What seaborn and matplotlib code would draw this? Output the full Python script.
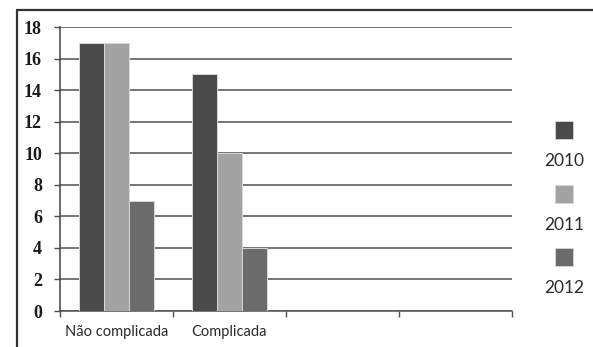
import matplotlib
matplotlib.use("Agg")
import matplotlib.pyplot as plt
import seaborn as sns
import pandas as pd
from matplotlib.lines import Line2D
from matplotlib.patches import Rectangle

# Data
categorias = ["Não complicada", "Complicada"]
slots = ["Não complicada", "Complicada", "_vazio3", "_vazio4"]
anos = ["2010", "2011", "2012"]
valores_2010 = [17, 15]
valores_2011 = [17, 10]
valores_2012 = [7, 4]
cores = ["#4a4a4a", "#a3a3a3", "#6b6b6b"]

df = pd.DataFrame({
    "categoria": categorias * 3,
    "ano": [a for a in anos for _ in categorias],
    "valor": valores_2010 + valores_2011 + valores_2012,
})

sns.set_style("white")
plt.rcParams["font.family"] = ["Lato", "DejaVu Sans"]

W, H = 593, 347
fig = plt.figure(figsize=(W / 100, H / 100), dpi=100)
ax = fig.add_axes([60 / W, 1 - 311 / H, (512 - 60) / W, (311 - 27) / H])

sns.barplot(data=df, x="categoria", y="valor", hue="ano", order=slots,
            hue_order=anos, palette=cores, width=0.66, ax=ax,
            edgecolor="#d8d8d8", linewidth=0.7, legend=False, zorder=3)

ax.set_xlim(-0.5, 3.5)
ax.set_ylim(0, 18)
ax.set_yticks(range(0, 19, 2))
ax.yaxis.grid(True, color="#505050", linewidth=1.1, zorder=0)
ax.set_axisbelow(True)
ax.set_xlabel("")
ax.set_ylabel("")

# category boundaries as major ticks, names as minor tick labels
ax.set_xticks([-0.5, 0.5, 1.5, 2.5, 3.5])
ax.set_xticklabels([])
ax.set_xticks([0, 1], minor=True)
ax.set_xticklabels(categorias, minor=True, fontsize=10.5, color="#2a2a2a")
ax.tick_params(axis="x", which="major", direction="out", length=4,
               width=1.0, color="#505050", bottom=True)
ax.tick_params(axis="x", which="minor", length=0, pad=10)
ax.tick_params(axis="y", direction="out", length=4, width=1.0,
               color="#505050", left=True, pad=9)
for lab in ax.get_yticklabels():
    lab.set_fontfamily(["Liberation Serif", "DejaVu Serif"])
    lab.set_fontweight("bold")
    lab.set_fontsize(13)
    lab.set_color("#1a1a1a")

for side in ["top", "right"]:
    ax.spines[side].set_visible(False)
ax.spines["left"].set_color("#404040")
ax.spines["left"].set_linewidth(1.1)
ax.spines["bottom"].set_color("#505050")
ax.spines["bottom"].set_linewidth(1.1)

# legend: swatch above each year label
sq = 18
for i, (ano, cor) in enumerate(zip(anos, cores)):
    top = 121 + i * 63.5
    fig.add_artist(Rectangle((555 / W, 1 - (top + sq) / H), sq / W, sq / H,
                             transform=fig.transFigure, facecolor=cor,
                             edgecolor="#d8d8d8", linewidth=0.6))
    fig.text(564 / W, 1 - (top + 40) / H, ano, ha="center", va="center",
             fontsize=12.5, color="#2a2a2a")

# outer frame
fig.add_artist(Line2D([17 / W, 1], [1 - 10 / H, 1 - 10 / H],
                      transform=fig.transFigure, color="#333333", linewidth=1.6))
fig.add_artist(Line2D([17 / W, 17 / W], [0, 1 - 10 / H],
                      transform=fig.transFigure, color="#333333", linewidth=1.6))

fig.savefig("out.png", dpi=100, facecolor="white")
